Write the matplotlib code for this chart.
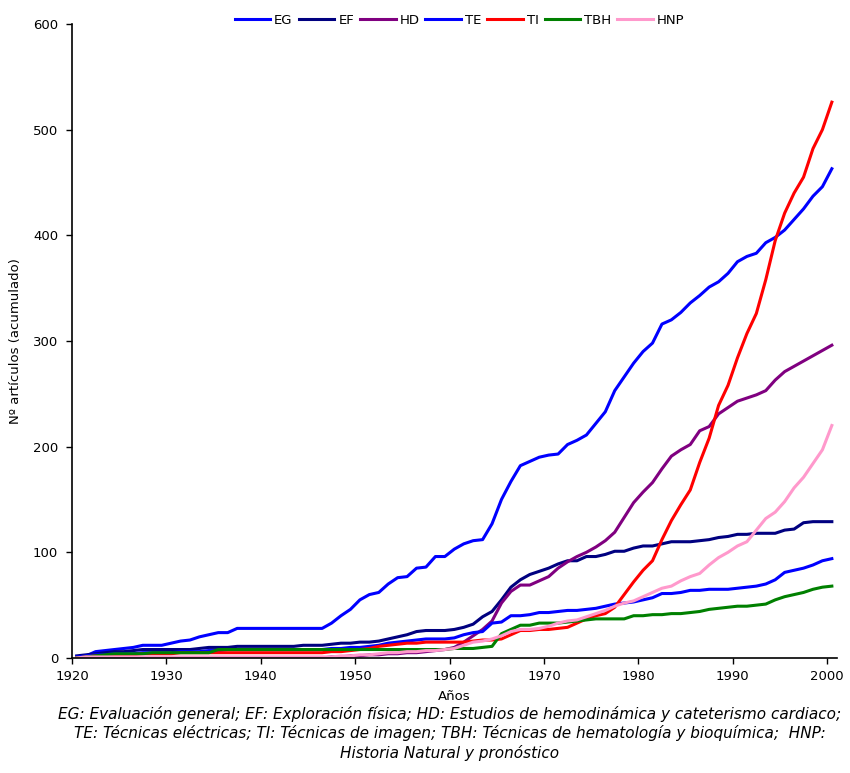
import matplotlib
matplotlib.use("Agg")
import matplotlib.pyplot as plt
import numpy as np

years = list(range(1920, 2001))

EG = [1, 2, 6, 7, 8, 9, 10, 12, 12, 12, 14, 16, 17, 20, 22, 24, 24, 28,
      28, 28, 28, 28, 28, 28, 28, 28, 28,
      33, 40, 46, 55, 60, 62, 70, 76, 77, 85, 86, 96, 96, 103, 108, 111, 112,
      127, 150, 167, 182, 186, 190, 192, 193, 202, 206, 211, 222, 233, 253,
      266, 279, 290, 298, 316, 320, 327, 336, 343, 351, 356, 364, 375, 380,
      383, 393, 398, 405, 415, 425, 437, 446, 463]

EF = [2, 3, 4, 5, 6, 6, 7, 8, 8, 8, 8, 8, 8, 9, 10, 10, 10, 11,
      11, 11, 11, 11, 11, 11,
      12, 12, 12, 13, 14, 14, 15, 15, 16, 18, 20, 22, 25, 26, 26, 26, 27, 29,
      32, 39, 44, 55, 67, 74, 79, 82, 85, 89, 92, 92, 96, 96, 98, 101, 101,
      104, 106, 106, 108, 110, 110, 110, 111, 112, 114, 115, 117, 117, 118,
      118, 118, 121, 122, 128, 129, 129, 129]

HD = [0, 0, 0, 0, 0, 0, 0, 0, 0, 0, 0, 0, 0, 0, 0, 0, 0, 0,
      0, 0, 0, 0, 0, 0, 0, 0, 0,
      1, 1, 2, 2, 3, 3, 4, 4, 5, 5, 6, 7, 8, 10, 15, 21, 27, 35, 52, 63, 69,
      69, 73, 77, 85, 91, 96, 100, 105, 111, 119, 133, 147, 157, 166, 179,
      191, 197, 202, 215, 219, 231, 237, 243, 246, 249, 253, 263, 271, 276,
      281, 286, 291, 296]

TE = [1, 2, 3, 3, 4, 4, 4, 5, 5, 5, 5, 6, 6, 6, 7, 7, 8, 8,
      8, 8, 8, 8, 8, 8, 8, 8, 8,
      9, 9, 10, 10, 11, 12, 14, 15, 16, 17, 18, 18, 18, 19, 22, 24, 25, 33,
      34, 40, 40, 41, 43, 43, 44, 45, 45, 46, 47, 49, 51, 52, 53, 55, 57, 61,
      61, 62, 64, 64, 65, 65, 65, 66, 67, 68, 70, 74, 81, 83, 85, 88, 92, 94]

TI = [0, 1, 2, 2, 3, 3, 3, 4, 4, 4, 4, 5, 5, 5, 5, 5, 5, 5,
      5, 5, 5, 5, 5, 5, 5, 5, 5,
      6, 6, 7, 8, 9, 11, 12, 13, 14, 14, 15, 15, 15, 15, 15, 16, 17, 17, 18,
      22, 26, 26, 27, 27, 28, 29, 33, 37, 40, 42, 48, 60, 72, 83, 92, 112,
      130, 145, 159, 185, 208, 239, 258, 284, 307, 326, 358, 395, 421, 440,
      455, 482, 500, 526]

TBH = [0, 1, 2, 3, 4, 4, 4, 4, 5, 5, 5, 5, 5, 5, 5, 8, 8, 8,
       8, 8, 8, 8, 8, 8, 8, 8, 8,
       8, 8, 8, 8, 8, 8, 8, 8, 8, 8, 8, 8, 8, 9, 9, 9, 10, 11, 23, 27, 31,
       31, 33, 33, 33, 34, 35, 36, 37, 37, 37, 37, 40, 40, 41, 41, 42, 42,
       43, 44, 46, 47, 48, 49, 49, 50, 51, 55, 58, 60, 62, 65, 67, 68]

HNP = [0, 1, 1, 1, 1, 1, 1, 1, 1, 1, 1, 1, 1, 1, 1, 1, 1, 1,
       1, 1, 1, 1, 1, 1, 1, 1, 1,
       1, 2, 2, 3, 3, 4, 5, 5, 6, 6, 7, 7, 8, 9, 12, 15, 16, 18, 21, 25, 27,
       27, 28, 30, 33, 35, 36, 39, 42, 45, 49, 52, 54, 58, 62, 66, 68, 73,
       77, 80, 88, 95, 100, 106, 110, 121, 132, 138, 148, 161, 171, 184, 197,
       220]

series = [("EG", EG, "#0000FF"), ("EF", EF, "#000080"), ("HD", HD, "#800080"),
          ("TE", TE, "#0000FF"), ("TI", TI, "#FF0000"), ("TBH", TBH, "#008000"),
          ("HNP", HNP, "#FF99CC")]

x_ticks = [1920, 1930, 1940, 1950, 1960, 1970, 1980, 1990, 2000]
y_ticks = [0, 100, 200, 300, 400, 500, 600]

fig = plt.figure(figsize=(8.5, 7.73), dpi=100)
ax = fig.add_axes([0.0847, 0.1488, 0.8995, 0.8202])
xs = np.array(years) + 0.5
for name, vals, col in series:
    ax.plot(xs, vals, color=col, lw=2.2, label=name, solid_joinstyle="round")

ax.set_xlim(1920, 2001)
ax.set_ylim(0, 600)
ax.set_xticks(x_ticks)
ax.set_yticks(y_ticks)
ax.spines["top"].set_visible(False)
ax.spines["right"].set_visible(False)
ax.spines["left"].set_linewidth(1.2)
ax.spines["bottom"].set_linewidth(1.2)
ax.tick_params(direction="out", length=4, width=1, labelsize=9.5)
ax.tick_params(axis="x", pad=5)
ax.tick_params(axis="y", pad=6)
ax.set_xlabel("Años", fontsize=9.5, labelpad=5)
ax.set_ylabel("Nº artículos (acumulado)", fontsize=9.5, labelpad=8)

ax.legend(loc="upper center", bbox_to_anchor=(0.507, 1.035), ncol=7, frameon=False,
          fontsize=9.5, handlelength=2.7, columnspacing=0.45, handletextpad=0.3)

cap = ("EG: Evaluación general; EF: Exploración física; HD: Estudios de hemodinámica y cateterismo cardiaco;\n"
       "TE: Técnicas eléctricas; TI: Técnicas de imagen; TBH: Técnicas de hematología y bioquímica;  HNP:\n"
       "Historia Natural y pronóstico")
fig.text(0.529, 0.087, cap, ha="center", va="top", fontsize=11.0, style="italic",
         family=["DejaVu Sans"], linespacing=1.26)

fig.savefig("out.png", dpi=100)
